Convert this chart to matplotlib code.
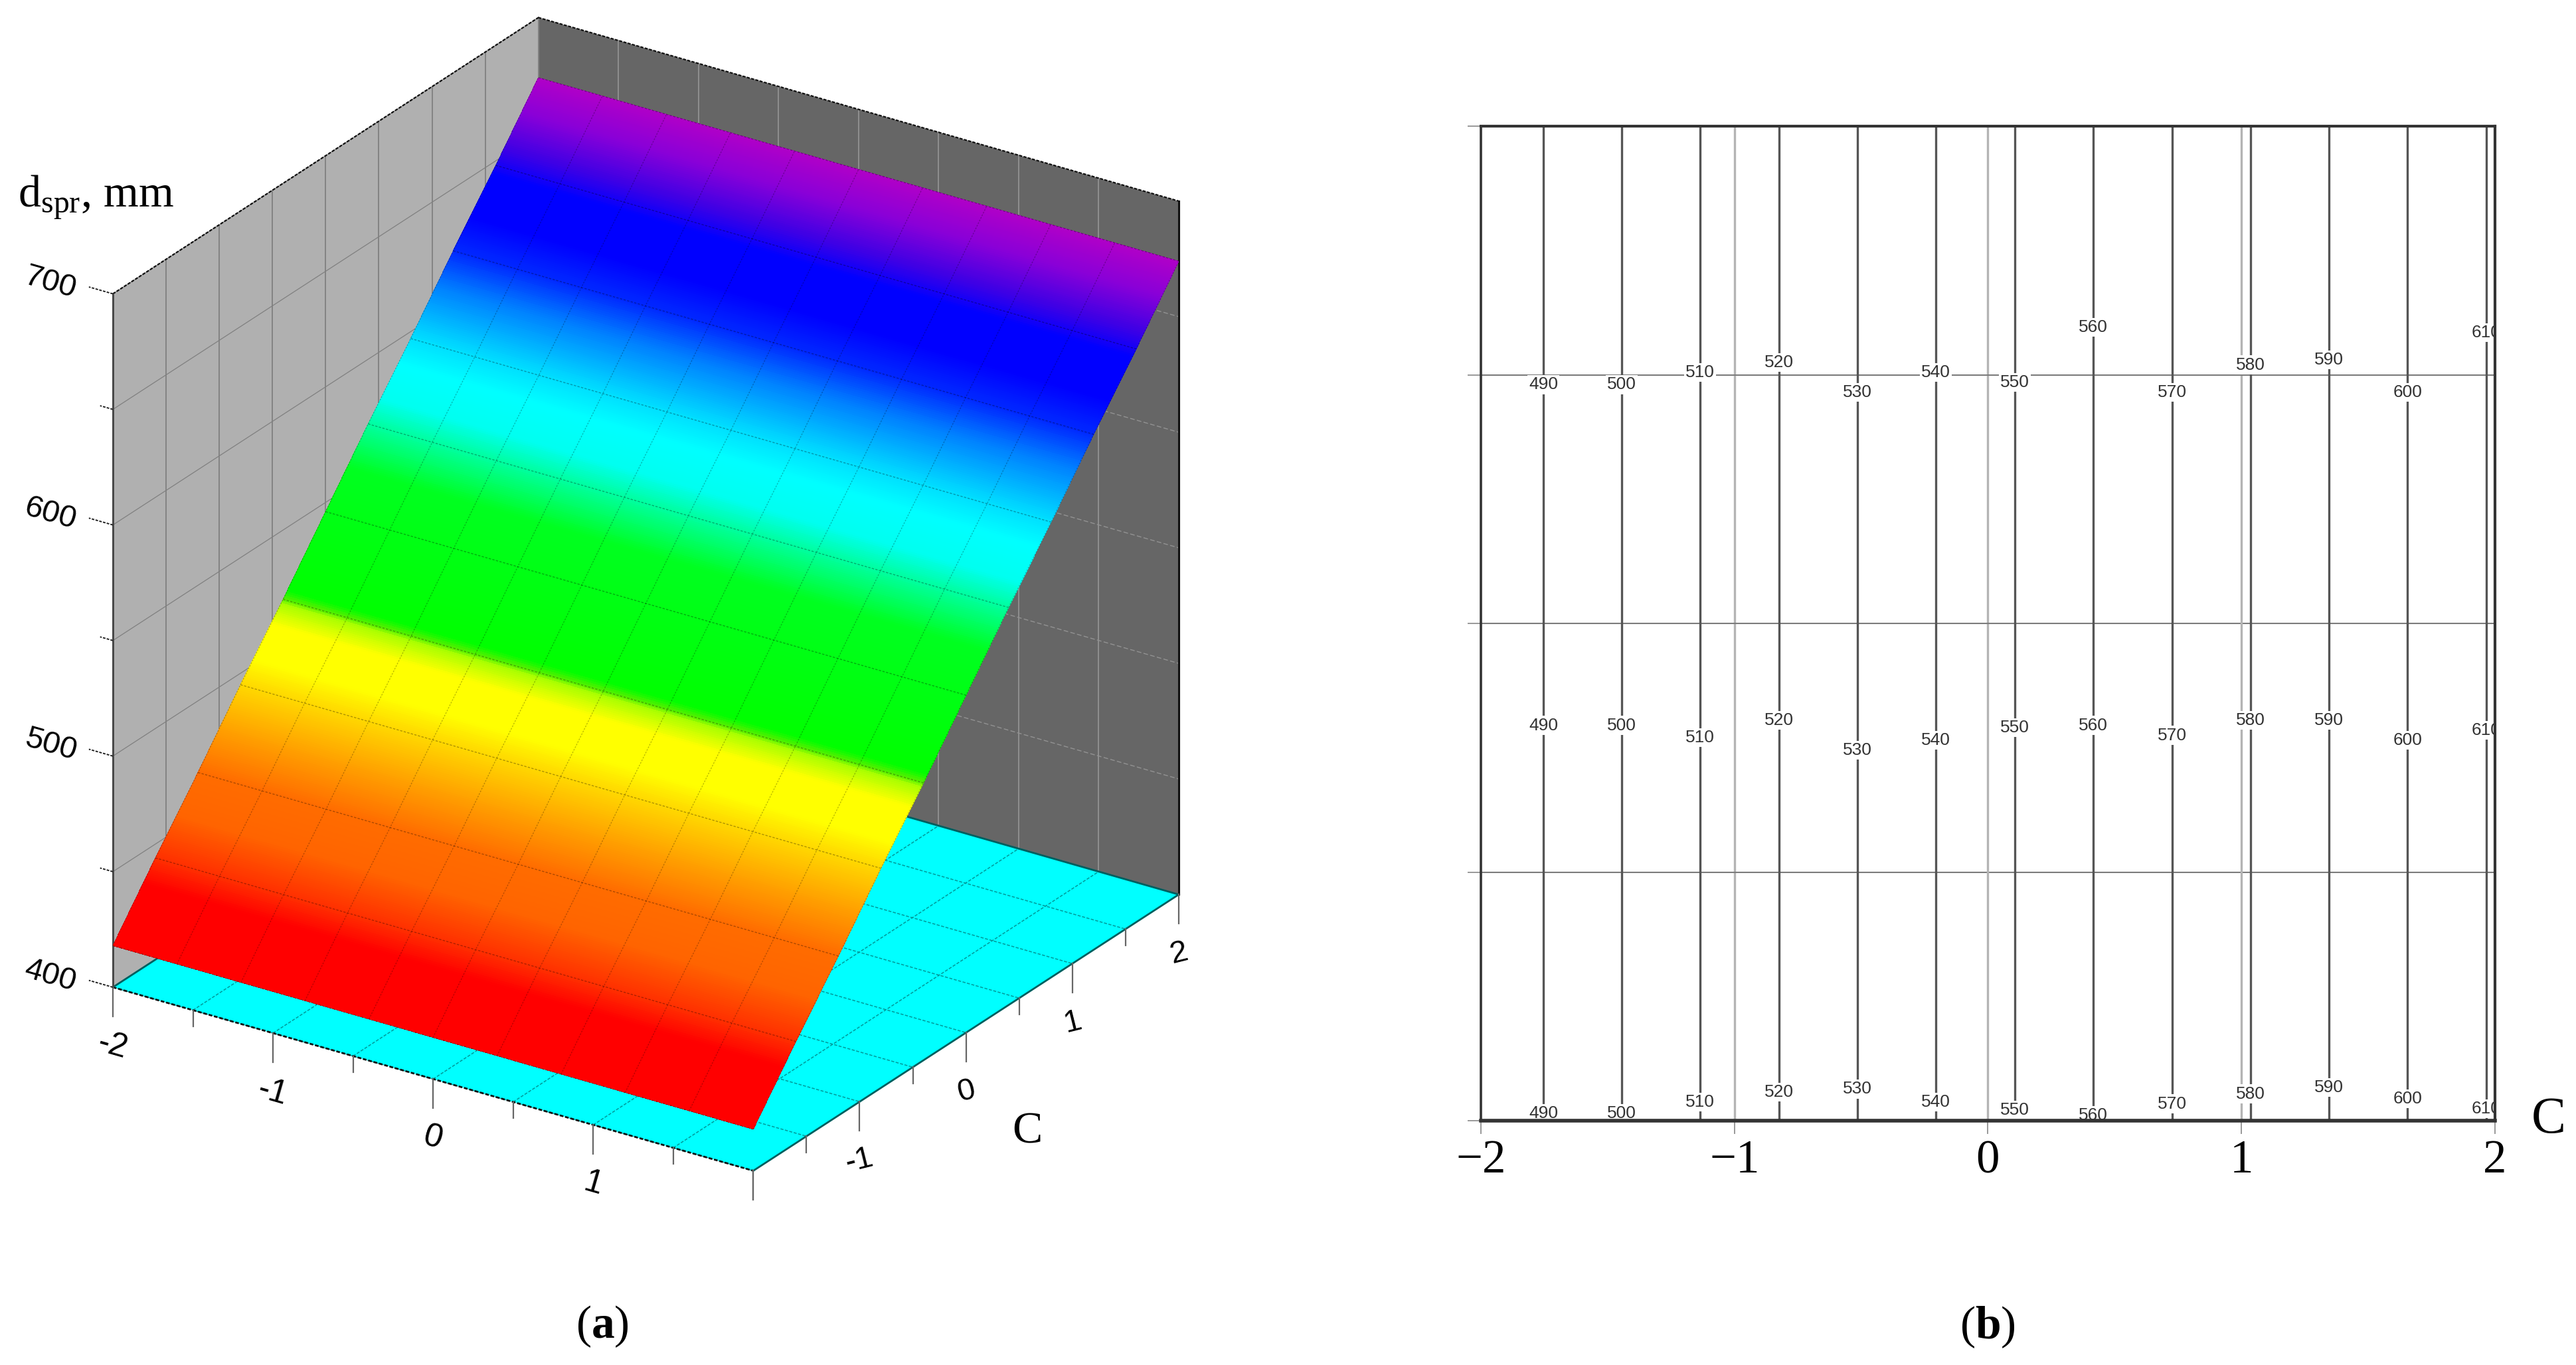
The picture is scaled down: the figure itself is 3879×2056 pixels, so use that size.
import numpy as np
import matplotlib
matplotlib.use("Agg")
import matplotlib.pyplot as plt
from matplotlib.colors import LinearSegmentedColormap
from mpl_toolkits.mplot3d import proj3d
from mpl_toolkits.mplot3d.art3d import Poly3DCollection

plt.rcParams['font.family'] = ['Liberation Serif', 'DejaVu Sans']
plt.rcParams['mathtext.fontset'] = 'custom'
plt.rcParams['mathtext.rm'] = 'Liberation Serif'
plt.rcParams['mathtext.it'] = 'Liberation Serif:italic'
plt.rcParams['mathtext.bf'] = 'Liberation Serif:bold'

# panel (a): surface read at the 10 x 10 mesh nodes
x_surf = [-2, -1.6, -1.2, -0.8, -0.4, 0, 0.4, 0.8, 1.2, 1.6, 2]
c_surf = [-2, -1.6, -1.2, -0.8, -0.4, 0, 0.4, 0.8, 1.2, 1.6, 2]
d_surf = [418, 444, 469, 495, 520, 546, 572, 597, 623, 648, 674]

# colour along the surface, from low to high
band_pos = [0, 0.07, 0.10, 0.15, 0.20, 0.25, 0.30, 0.33, 0.37, 0.395, 0.40, 0.41, 0.55, 0.60, 0.63, 0.67, 0.70, 0.73, 0.76, 0.80, 0.84, 0.89, 0.92, 0.96, 1]
band_col = ['#ff0000', '#ff0000', '#ff3000', '#ff6400', '#ff6c00', '#ffa000', '#ffd800', '#ffff00', '#ffff00', '#a8ff00', '#50f000', '#00ff00',
            '#00ff20', '#00ffa0', '#00fff0', '#00ffff', '#00e0ff', '#00b0ff', '#0080ff', '#0028ff', '#0000ff', '#0000ff', '#4000e4', '#8800d8', '#b000c8']

grid_xc = [-2, -1.5, -1, -0.5, 0, 0.5, 1, 1.5, 2]
grid_d = [400, 450, 500, 550, 600, 650, 700]
major_xc = [-2, -1, 0, 1, 2]
major_d = [400, 500, 600, 700]
x_ticklabels = ['-2', '-1', '0', '1']
c_ticklabels = ['-1', '0', '1', '2']

# panel (b): contour levels, where they cross C, where their labels sit
levels = [490, 500, 510, 520, 530, 540, 550, 560, 570, 580, 590, 600, 610]
level_c = [-1.754, -1.444, -1.135, -0.823, -0.514, -0.205, 0.106, 0.415, 0.727, 1.036, 1.345, 1.655, 1.965]
label_y_top = [0.96, 0.96, 1.01, 1.05, 0.93, 1.01, 0.97, 1.19, 0.93, 1.04, 1.06, 0.93, 1.17]
label_y_mid = [-0.41, -0.41, -0.46, -0.39, -0.51, -0.47, -0.42, -0.41, -0.45, -0.39, -0.39, -0.47, -0.43]
label_y_low = [-1.97, -1.97, -1.925, -1.886, -1.873, -1.925, -1.958, -1.978, -1.932, -1.892, -1.866, -1.912, -1.952]
b_ticks = [-2, -1, 0, 1, 2]
b_ticklabels = ['\u22122', '\u22121', '0', '1', '2']

W, H = 3880, 2056
fig = plt.figure(figsize=(W / 100, H / 100), dpi=100, facecolor='white')

# ---- (a)
L = 2200.0
left, bottom = 0.0, 0.0
ax = fig.add_axes([left / W, bottom / H, L / W, L / H], projection='3d', proj_type='ortho', computed_zorder=False)
ax.view_init(elev=25.56, azim=-56.4)
ax.set_xlim(-2, 2, view_margin=0)
ax.set_ylim(-2, 2, view_margin=0)
ax.set_zlim(400, 700, view_margin=0)
ax.set_box_aspect((1, 1, 1), zoom=0.8)
ax.set_xticks([])
ax.set_yticks([])
ax.set_zticks([])
ax.set_axis_off()
ax.patch.set_visible(False)


def wall(pts, color):
    ax.add_collection3d(Poly3DCollection([pts], facecolors=color, edgecolors='none', zorder=1))


wall([(-2, -2, 400), (-2, 2, 400), (-2, 2, 700), (-2, -2, 700)], '#b0b0b0')
wall([(-2, 2, 400), (2, 2, 400), (2, 2, 700), (-2, 2, 700)], '#666666')
wall([(-2, -2, 400), (2, -2, 400), (2, 2, 400), (-2, 2, 400)], '#00ffff')

for v in grid_xc:
    ax.plot([-2, -2], [v, v], [400, 700], color='#808080', lw=1.3, zorder=2)
    ax.plot([v, v], [2, 2], [400, 700], color='#929292', lw=1.3, zorder=2)
    ax.plot([v, v], [-2, 2], [400, 400], color='#009a9a', lw=1.1, ls=(0, (3, 1.5)), zorder=2)
    ax.plot([-2, 2], [v, v], [400, 400], color='#009a9a', lw=1.1, ls=(0, (3, 1.5)), zorder=2)
for d in grid_d:
    ax.plot([-2, -2], [-2, 2], [d, d], color='#808080', lw=0.9, zorder=2)
    ax.plot([-2, 2], [2, 2], [d, d], color='#929292', lw=1.0, ls=(0, (5, 2.5)), zorder=2)

# wall and floor borders
ax.plot([-2, -2], [-2, 2], [700, 700], color='#111111', lw=1.6, ls=(0, (2, 1)), zorder=3)
ax.plot([-2, 2], [2, 2], [700, 700], color='#111111', lw=1.6, ls=(0, (2, 1)), zorder=3)
ax.plot([-2, 2], [-2, -2], [400, 400], color='#111111', lw=2, ls=(0, (2, 1)), zorder=3)
ax.plot([2, 2], [-2, 2], [400, 400], color='#005f5f', lw=2, zorder=3)
ax.plot([-2, 2], [2, 2], [400, 400], color='#005f5f', lw=2, zorder=3)
ax.plot([-2, -2], [-2, 2], [400, 400], color='#005f5f', lw=2, zorder=3)
ax.plot([-2, -2], [-2, -2], [400, 700], color='#444444', lw=2, zorder=3)
ax.plot([2, 2], [2, 2], [400, 700], color='#111111', lw=2.2, zorder=3)

# ticks below the floor and left of the wall
for v in grid_xc:
    dz = 12.6 if v in major_xc else 7
    ax.plot([v, v], [-2, -2], [400, 400 - dz], color='#666666', lw=1.6, zorder=3)
    ax.plot([2, 2], [v, v], [400, 400 - dz], color='#666666', lw=1.6, zorder=3)
for d in grid_d:
    dx = 0.15 if d in major_d else 0.08
    ax.plot([-2, -2 - dx], [-2, -2], [d, d], color='#222222', lw=1.4, ls=(0, (2, 1)), zorder=3)

# surface, split into thin strips so that the colours run smoothly
cmap = LinearSegmentedColormap.from_list('bands', list(zip(band_pos, band_col)), N=1024)
c_fine = np.linspace(c_surf[0], c_surf[-1], 461)
d_fine = np.interp(c_fine, c_surf, d_surf)
X, Y = np.meshgrid([x_surf[0], x_surf[-1]], c_fine)
Z = np.column_stack([d_fine, d_fine])
strip_pos = (c_fine[:-1] + c_fine[1:] - 2 * c_fine[0]) / 2 / (c_fine[-1] - c_fine[0])
strip_col = cmap(strip_pos)[:, None, :]
ax.plot_surface(X, Y, Z, facecolors=strip_col, rstride=1, cstride=1, shade=False, linewidth=0, antialiased=False, zorder=4)

for i, c in enumerate(c_surf):
    ax.plot([-2, 2], [c, c], [d_surf[i], d_surf[i]], color='black', alpha=0.32, lw=1.0, ls=(0, (2.5, 1.5)), zorder=5)
for v in x_surf:
    ax.plot([v] * len(c_surf), c_surf, d_surf, color='black', alpha=0.28, lw=0.9, ls=(0, (2, 1.5)), zorder=5)


def corner(x, y, z):
    xs, ys, _ = proj3d.proj_transform(x, y, z, ax.get_proj())
    px = ax.transData.transform((xs, ys))
    return px[0], H - px[1]


# fit the cube onto the reference corners
fig.canvas.draw()
a = corner(-2, -2, 400)
b = corner(2, 2, 400)
f = (1775 - 170) / (b[0] - a[0])
cx, cy = left + L / 2, bottom + L / 2
L = L * f
left, bottom = cx - L / 2, cy - L / 2
ax.set_position([left / W, bottom / H, L / W, L / H])
fig.canvas.draw()
a = corner(-2, -2, 400)
left += 170 - a[0]
bottom -= 1487 - a[1]
ax.set_position([left / W, bottom / H, L / W, L / H])
fig.canvas.draw()


def label3d(x, y, z, s, size, rot=0, family='Liberation Sans'):
    px, py = corner(x, y, z)
    fig.text(px / W, 1 - py / H, s, family=family, fontsize=size, rotation=rot, ha='center', va='center')


# tick labels
for v, s in zip(major_xc, x_ticklabels):
    label3d(v, -2, 374.4, s, 36, -16)
for v, s in zip(major_xc[1:], c_ticklabels):
    label3d(2, v, 374.4, s, 34, 14)
for d in major_d:
    label3d(-2.39, -2, d - 3, str(d), 34, -16)
label3d(2, 0.573, 340, 'C', 49, 0, 'Liberation Serif')

fig.text(27 / W, 1 - 297 / H, 'd$_{\\mathrm{spr}}$, mm', fontsize=49, ha='left', va='center')
fig.text(907 / W, 1 - 1998 / H, '($\\mathbf{a}$)', fontsize=50, ha='center', va='center')

# ---- (b)
ax2 = fig.add_axes([2230 / W, 1 - 1688 / H, 1527 / W, 1498 / H])
ax2.set_xlim(-2, 2)
ax2.set_ylim(-2, 2)
ax2.set_xticks(b_ticks, b_ticklabels, fontsize=51)
ax2.set_yticks(b_ticks, [])
ax2.tick_params(axis='both', length=14.4, width=1.4, color='#999999', pad=6)
for v in b_ticks[1:-1]:
    ax2.axvline(v, color='#b4b4b4', lw=2.4, zorder=1)
    ax2.axhline(v, color='#7c7c7c', lw=1.5, zorder=1)
ax2.vlines(level_c, -2, 2, color='#555555', lw=2.4, zorder=1.5)

for rows in (label_y_top, label_y_mid, label_y_low):
    for c, y, lev in zip(level_c, rows, levels):
        ax2.text(c, y, str(lev), family='Liberation Sans', fontsize=19, color='#333333', ha='center', va='center',
                 clip_on=True, zorder=2, bbox=dict(facecolor='white', edgecolor='none', pad=1.5))

ax2.spines['top'].set_linewidth(3.0)
ax2.spines['right'].set_linewidth(3.0)
ax2.spines['left'].set_linewidth(2.6)
ax2.spines['bottom'].set_linewidth(4.0)
for s in ax2.spines.values():
    s.set_color('#333333')

fig.text(3838 / W, 1 - 1687 / H, 'C', fontsize=56, ha='center', va='center')
fig.text(2993 / W, 1 - 1999 / H, '($\\mathbf{b}$)', fontsize=50, ha='center', va='center')

fig.savefig('out.png', dpi=100)
